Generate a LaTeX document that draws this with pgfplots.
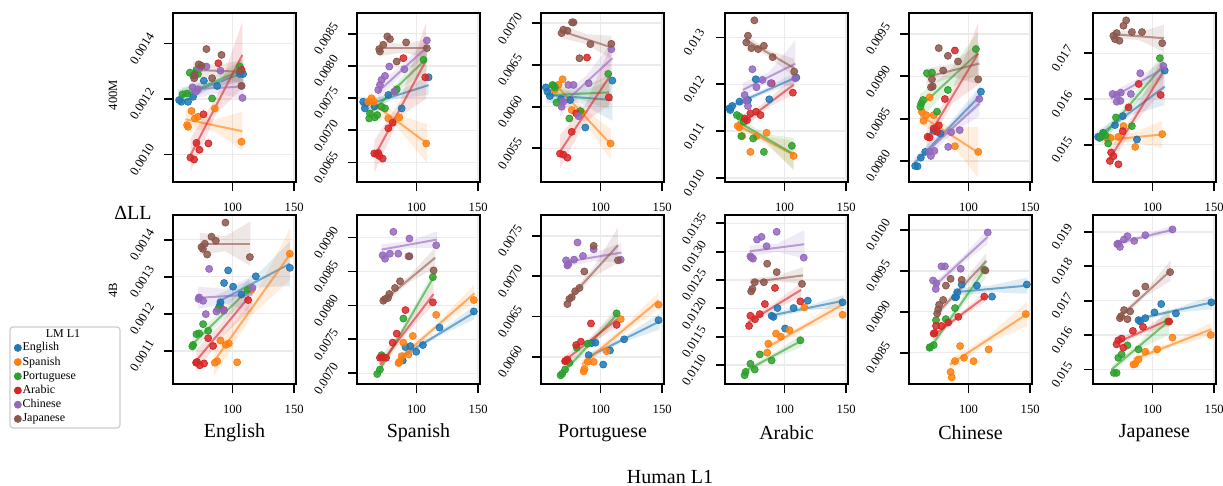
\documentclass[border=0pt]{standalone}
\usepackage{fontspec}
\setmainfont{Liberation Serif}
\usepackage{pgfplots}
\pgfplotsset{compat=1.18}

\definecolor{cB}{HTML}{1F77B4}
\definecolor{cO}{HTML}{FF7F0E}
\definecolor{cG}{HTML}{2CA02C}
\definecolor{cR}{HTML}{D62728}
\definecolor{cP}{HTML}{9467BD}
\definecolor{cN}{HTML}{8C564B}

\pgfplotsset{
  panel/.style={
    scale only axis, width=61.5pt, height=84.5pt, anchor=north west,
    xmin=51.8, xmax=151.5, xtick={100,150},
    tick align=outside, tick pos=left, major tick length=4.5pt,
    tick style={black, line width=0.9pt},
    axis line style={line width=0.9pt},
    grid=major, grid style={line width=0.7pt, color=black!8},
    scaled y ticks=false,
    /pgf/number format/assume math mode=true,
    xticklabel style={font=\fontsize{6.3}{7}\selectfont, yshift=-2.5pt},
    yticklabel style={font=\fontsize{6.3}{7}\selectfont, anchor=center,
      xshift=-11pt, yshift=-2.5pt, rotate=58,
      /pgf/number format/fixed, /pgf/number format/fixed zerofill,
      /pgf/number format/precision=#1},
  },
  sc/.style={only marks, mark=*, color=#1, mark size=1.75pt,
    mark options={draw=none, fill opacity=0.85}, forget plot},
  rl/.style={no marks, color=#1, line width=1pt, opacity=0.6, forget plot},
  bd/.style={draw=none, fill=#1, fill opacity=0.14, forget plot},
}

\begin{document}
\begin{tikzpicture}
\useasboundingbox (0,0) rectangle (611.5pt,-243pt);

% legend frame and title
\draw[rounded corners=1.5pt, black!20, line width=0.6pt, fill=white] (5pt,-163.5pt) rectangle (60pt,-214pt);
\node[font=\fontsize{6}{7}\selectfont] at (31.5pt,-166.8pt) {LM L1};

% ---------------- row 1: 400M ----------------
\begin{axis}[panel=4, at={(86.5pt,-6.5pt)}, ymin=0.000901, ymax=0.00151, ytick={0.0010,0.0012,0.0014}, xticklabel={}]
\addplot[bd=cB] coordinates {(56,0.001175) (82.5,0.001238) (109,0.001265) (109,0.001325) (82.5,0.001262) (56,0.001235)};
\addplot[sc=cB] coordinates {(56.8,0.001196) (58.6,0.001190) (64.0,0.001190) (68,0.001208) (76.8,0.001266) (87.6,0.001247) (106,0.001290) (108.6,0.001290)};
\addplot[rl=cB] coordinates {(56,0.001205) (109,0.001295)};
\addplot[bd=cO] coordinates {(62,0.001092) (85,0.0010855) (108,0.001014) (108,0.001154) (85,0.0011255) (62,0.001162)};
\addplot[sc=cO] coordinates {(66.8,0.001157) (63.2,0.001106) (64.0,0.001100) (69.5,0.001130) (72.2,0.001136) (85.7,0.001166) (107.3,0.001046)};
\addplot[rl=cO] coordinates {(62,0.001127) (108,0.001084)};
\addplot[bd=cG] coordinates {(59,0.001182) (83.5,0.0012435) (108,0.001265) (108,0.001345) (83.5,0.0012735) (59,0.001242)};
\addplot[sc=cG] coordinates {(59.5,0.001217) (63.2,0.001220) (65.4,0.001295) (68.1,0.001285) (70.8,0.001305) (72,0.001290) (83.5,0.001202) (106,0.001317)};
\addplot[rl=cG] coordinates {(59,0.001212) (108,0.001305)};
\addplot[bd=cR] coordinates {(66,0.000938) (87,0.0011485) (108,0.001239) (108,0.001479) (87,0.0012085) (66,0.001058)};
\addplot[sc=cR] coordinates {(65.9,0.000989) (68.9,0.000982) (70.8,0.001042) (73.2,0.001017) (76.5,0.001145) (80.5,0.001040) (88.6,0.001329) (107.3,0.001305)};
\addplot[rl=cR] coordinates {(66,0.000998) (108,0.001359)};
\addplot[bd=cP] coordinates {(66,0.0012) (87.5,0.00122) (109,0.0012) (109,0.00129) (87.5,0.00126) (66,0.00127)};
\addplot[sc=cP] coordinates {(67.6,0.001242) (70.5,0.001227) (73.5,0.001311) (78.9,0.001317) (90.3,0.001302) (107.3,0.001248) (108.1,0.001204) (72,0.001235)};
\addplot[rl=cP] coordinates {(66,0.001235) (109,0.001245)};
\addplot[bd=cN] coordinates {(68,0.001275) (88.5,0.0012815) (109,0.001253) (109,0.001343) (88.5,0.0013215) (68,0.001335)};
\addplot[sc=cN] coordinates {(78.9,0.001380) (91.1,0.001359) (72.7,0.001325) (74.9,0.001320) (69.5,0.001287) (69,0.001275) (83.5,0.001275) (107.3,0.001247) (106,0.001302)};
\addplot[rl=cN] coordinates {(68,0.001305) (109,0.001298)};
\end{axis}

\begin{axis}[panel=4, at={(178.5pt,-6.5pt)}, ymin=0.006197, ymax=0.008821, ytick={0.0065,0.0070,0.0075,0.0080,0.0085}, xticklabel={}]
\addplot[bd=cB] coordinates {(55.4,0.00729) (82.6,0.007485) (109.8,0.00755) (109.8,0.00785) (82.6,0.007585) (55.4,0.00745)};
\addplot[sc=cB] coordinates {(56.8,0.007444) (58.2,0.007340) (77.2,0.007548) (88.0,0.007340) (109.8,0.007823) (59.5,0.007420) (66,0.007370)};
\addplot[rl=cB] coordinates {(55.4,0.00737) (109.8,0.0077)};
\addplot[bd=cO] coordinates {(60.9,0.00735) (84.65,0.007035) (108.4,0.0065) (108.4,0.0071) (84.65,0.007235) (60.9,0.00759)};
\addplot[sc=cO] coordinates {(63.6,0.007496) (65.5,0.007444) (77.2,0.007184) (86.1,0.007200) (107.9,0.006795) (60.9,0.007444)};
\addplot[rl=cO] coordinates {(60.9,0.00747) (108.4,0.0068)};
\addplot[bd=cG] coordinates {(61,0.00714) (84.7,0.00761) (108.4,0.00792) (108.4,0.00832) (84.7,0.00775) (61,0.00734)};
\addplot[sc=cG] coordinates {(105.7,0.008094) (84.0,0.007636) (82.6,0.007600) (71.7,0.007366) (68.2,0.007236) (61.7,0.007184) (66.3,0.007200) (62.3,0.007262) (74.5,0.007340)};
\addplot[rl=cG] coordinates {(61,0.00724) (108.4,0.00812)};
\addplot[bd=cR] coordinates {(65.8,0.00634) (86.85,0.00722) (107.9,0.00749) (107.9,0.00869) (86.85,0.00746) (65.8,0.00684)};
\addplot[sc=cR] coordinates {(65.8,0.006640) (67.7,0.006630) (69.9,0.006600) (72.6,0.006560) (77.2,0.007030) (80.7,0.007117) (89.4,0.008120) (107.1,0.007823) (69,0.006650)};
\addplot[rl=cR] coordinates {(65.8,0.00659) (107.9,0.00809)};
\addplot[bd=cP] coordinates {(69,0.00748) (89,0.00788) (109,0.00816) (109,0.00844) (89,0.00802) (69,0.00772)};
\addplot[sc=cP] coordinates {(108.4,0.008395) (78.0,0.007990) (90.2,0.007948) (74.5,0.007844) (70.4,0.007704) (69.0,0.007626) (71.7,0.007782) (82.1,0.007600)};
\addplot[rl=cP] coordinates {(69,0.0076) (109,0.0083)};
\addplot[bd=cN] coordinates {(70,0.00815) (89.25,0.00821) (108.5,0.00812) (108.5,0.00842) (89.25,0.00833) (70,0.00839)};
\addplot[sc=cN] coordinates {(76.4,0.008457) (78.5,0.008416) (73.1,0.008327) (69.8,0.008260) (70.4,0.008223) (91.6,0.008364) (84.0,0.008068) (108.4,0.008275)};
\addplot[rl=cN] coordinates {(70,0.00827) (108.5,0.00827)};
\end{axis}

\begin{axis}[panel=4, at={(270.5pt,-6.5pt)}, ymin=0.005097, ymax=0.007122, ytick={0.0055,0.0060,0.0065,0.0070}, xticklabel={}]
\addplot[bd=cB] coordinates {(56.2,0.00604) (82.9,0.00605) (109.6,0.00583) (109.6,0.00633) (82.9,0.00617) (56.2,0.00624)};
\addplot[sc=cB] coordinates {(55.7,0.006231) (59,0.006127) (109.6,0.006312) (87.7,0.005750) (75.4,0.006079) (68,0.006090) (57,0.006180)};
\addplot[rl=cB] coordinates {(56.2,0.00614) (109.6,0.00608)};
\addplot[bd=cO] coordinates {(65.8,0.00613) (87,0.00581) (108.2,0.00537) (108.2,0.00573) (87,0.00597) (65.8,0.00633)};
\addplot[sc=cO] coordinates {(69.3,0.006328) (65.8,0.006260) (76.7,0.005959) (84.4,0.005939) (108.2,0.005558) (63,0.006200)};
\addplot[rl=cO] coordinates {(65.8,0.00623) (108.2,0.00555)};
\addplot[bd=cG] coordinates {(60.3,0.00604) (83.55,0.006085) (106.8,0.00597) (106.8,0.00637) (83.55,0.006225) (60.3,0.00624)};
\addplot[sc=cG] coordinates {(61.1,0.006260) (63.1,0.006231) (64.4,0.006048) (74.8,0.005858) (106.3,0.006392) (83.6,0.005947) (62,0.006250)};
\addplot[rl=cG] coordinates {(60.3,0.00614) (106.8,0.00617)};
\addplot[bd=cR] coordinates {(67.2,0.00526) (87.7,0.00582) (108.2,0.00603) (108.2,0.00673) (87.7,0.00602) (67.2,0.00566)};
\addplot[sc=cR] coordinates {(67.2,0.005437) (69.9,0.005425) (73.2,0.005389) (76.7,0.005698) (89.1,0.006588) (80.3,0.005919) (106.8,0.006111)};
\addplot[rl=cR] coordinates {(67.2,0.00546) (108.2,0.00638)};
\addplot[bd=cP] coordinates {(67.2,0.00588) (88.4,0.00621) (109.6,0.00638) (109.6,0.00678) (88.4,0.00637) (67.2,0.00612)};
\addplot[sc=cP] coordinates {(74,0.006260) (78.1,0.006260) (90.4,0.006280) (108.8,0.006688) (68.5,0.005999) (82.2,0.005886) (69.9,0.006059)};
\addplot[rl=cP] coordinates {(67.2,0.006) (109.6,0.00658)};
\addplot[bd=cN] coordinates {(69.3,0.00682) (89.05,0.006745) (108.8,0.00657) (108.8,0.00685) (89.05,0.006865) (69.3,0.00698)};
\addplot[sc=cN] coordinates {(78.1,0.007009) (69.9,0.006921) (73.2,0.006909) (68.5,0.006881) (91.8,0.006749) (108.8,0.006753) (83,0.006580) (77,0.007010)};
\addplot[rl=cN] coordinates {(69.3,0.0069) (108.8,0.00671)};
\end{axis}

\begin{axis}[panel=3, at={(362.5pt,-6.5pt)}, ymin=0.009914, ymax=0.013521, ytick={0.010,0.011,0.012,0.013}, xticklabel={}]
\addplot[bd=cB] coordinates {(55.4,0.01144) (82.5,0.011785) (109.6,0.01203) (109.6,0.01227) (82.5,0.011885) (55.4,0.0116)};
\addplot[sc=cB] coordinates {(55.4,0.011486) (57.6,0.011536) (63.6,0.011629) (76.7,0.012107) (87.7,0.011679) (109.6,0.012143) (70.4,0.011664) (56,0.011450)};
\addplot[rl=cB] coordinates {(55.4,0.01152) (109.6,0.01215)};
\addplot[bd=cO] coordinates {(61.7,0.01103) (84.55,0.01073) (107.4,0.01019) (107.4,0.01079) (84.55,0.01089) (61.7,0.01123)};
\addplot[sc=cO] coordinates {(62.2,0.011107) (65.8,0.010893) (72.4,0.010557) (77.3,0.010893) (85.5,0.010964) (107.4,0.010471) (63.5,0.011080)};
\addplot[rl=cO] coordinates {(61.7,0.01113) (107.4,0.01049)};
\addplot[bd=cG] coordinates {(62.2,0.0111) (84.8,0.010775) (107.4,0.01016) (107.4,0.01086) (84.8,0.010935) (62.2,0.0113)};
\addplot[sc=cG] coordinates {(61.4,0.011343) (63.6,0.011307) (65,0.010893) (74.6,0.010843) (83.3,0.010557) (106,0.010686) (67,0.011200)};
\addplot[rl=cG] coordinates {(62.2,0.0112) (107.4,0.01051)};
\addplot[bd=cR] coordinates {(67.7,0.01108) (87.55,0.011515) (107.4,0.01179) (107.4,0.01219) (87.55,0.011675) (67.7,0.01132)};
\addplot[sc=cR] coordinates {(67.7,0.011271) (69.6,0.011236) (72.4,0.011379) (77,0.011414) (80.6,0.011343) (89.6,0.012021) (106.8,0.011821)};
\addplot[rl=cR] coordinates {(67.7,0.0112) (107.4,0.01199)};
\addplot[bd=cP] coordinates {(66.3,0.01173) (87.55,0.01206) (108.8,0.01194) (108.8,0.01294) (87.55,0.01226) (66.3,0.01203)};
\addplot[sc=cP] coordinates {(74,0.012321) (77.3,0.011936) (82.2,0.012093) (67.7,0.011771) (70.4,0.011536) (88.8,0.012021) (108.8,0.012129) (69,0.011650)};
\addplot[rl=cP] coordinates {(66.3,0.01188) (108.8,0.01244)};
\addplot[bd=cN] coordinates {(68.5,0.01285) (88.2,0.012577) (107.9,0.012143) (107.9,0.012543) (88.2,0.012717) (68.5,0.01305)};
\addplot[sc=cN] coordinates {(75.6,0.013364) (70.4,0.013036) (69.1,0.012893) (73.2,0.012771) (78.7,0.012750) (83.3,0.012821) (90.4,0.012579) (107.9,0.012271)};
\addplot[rl=cN] coordinates {(68.5,0.01295) (107.9,0.012343)};
\end{axis}

\begin{axis}[panel=4, at={(454.5pt,-6.5pt)}, ymin=0.007753, ymax=0.009746, ytick={0.0080,0.0085,0.0090,0.0095}, xticklabel={}]
\addplot[bd=cB] coordinates {(55.9,0.00791) (83,0.008335) (110.1,0.00866) (110.1,0.0089) (83,0.008415) (55.9,0.00803)};
\addplot[sc=cB] coordinates {(56.8,0.007942) (58.7,0.007938) (61.4,0.008041) (64.9,0.008108) (71.8,0.008357) (110.1,0.008818) (77.3,0.008325)};
\addplot[rl=cB] coordinates {(55.9,0.00797) (110.1,0.00878)};
\addplot[bd=cO] coordinates {(60.9,0.00844) (84.4,0.00824) (107.9,0.0078) (107.9,0.0084) (84.4,0.0084) (60.9,0.00864)};
\addplot[sc=cO] coordinates {(62.2,0.008582) (63.6,0.008475) (68.5,0.008751) (71.8,0.008542) (89,0.008175) (107.9,0.008108) (65.8,0.008540)};
\addplot[rl=cO] coordinates {(60.9,0.00854) (107.9,0.0081)};
\addplot[bd=cG] coordinates {(60.9,0.00849) (84.15,0.008855) (107.4,0.00902) (107.4,0.00952) (84.15,0.009055) (60.9,0.00879)};
\addplot[sc=cG] coordinates {(61.7,0.008680) (63.1,0.008720) (66.3,0.009036) (70.4,0.009043) (83.3,0.008838) (106,0.009320) (74.5,0.008582) (61,0.008640)};
\addplot[rl=cG] coordinates {(60.9,0.00864) (107.4,0.00927)};
\addplot[bd=cR] coordinates {(65.8,0.00813) (86.85,0.00868) (107.9,0.0089) (107.9,0.00964) (86.85,0.00884) (65.8,0.00837)};
\addplot[sc=cR] coordinates {(89,0.009304) (80.9,0.008732) (66.9,0.008286) (68.5,0.008278) (71.8,0.008384) (74.5,0.008345) (76,0.008420)};
\addplot[rl=cR] coordinates {(65.8,0.00825) (107.9,0.00927)};
\addplot[bd=cP] coordinates {(66.3,0.00803) (87.55,0.008335) (108.8,0.00853) (108.8,0.00883) (87.55,0.008455) (66.3,0.00819)};
\addplot[sc=cP] coordinates {(68.5,0.008108) (72.4,0.008120) (83.6,0.008167) (92.9,0.008365) (108.8,0.008732) (69.5,0.008060) (86,0.008340)};
\addplot[rl=cP] coordinates {(66.3,0.00811) (108.8,0.00868)};
\addplot[bd=cN] coordinates {(65.8,0.00889) (87.3,0.00899) (108.8,0.0089) (108.8,0.0094) (87.3,0.00915) (65.8,0.00909)};
\addplot[sc=cN] coordinates {(75.9,0.009332) (83.3,0.009241) (91.5,0.009174) (79.5,0.009067) (70.4,0.008964) (69.6,0.008870) (107.9,0.008964) (71,0.008880)};
\addplot[rl=cN] coordinates {(65.8,0.00899) (108.8,0.00915)};
\end{axis}

\begin{axis}[panel=3, at={(546.5pt,-6.5pt)}, ymin=0.014183, ymax=0.017883, ytick={0.015,0.016,0.017}, xticklabel={}]
\addplot[bd=cB] coordinates {(55.1,0.015052) (82.5,0.015642) (109.9,0.015871) (109.9,0.016671) (82.5,0.015802) (55.1,0.015292)};
\addplot[sc=cB] coordinates {(55.9,0.015172) (60,0.015260) (69.6,0.015429) (75.9,0.015626) (87.4,0.015114) (109.9,0.016623) (57,0.015150)};
\addplot[rl=cB] coordinates {(55.1,0.015172) (109.9,0.016271)};
\addplot[bd=cO] coordinates {(61.4,0.014979) (84.65,0.015061) (107.9,0.014923) (107.9,0.015523) (84.65,0.015261) (61.4,0.015219)};
\addplot[sc=cO] coordinates {(76.5,0.015407) (72.4,0.015172) (86,0.014952) (107.9,0.015231) (63.3,0.015136) (66,0.015150)};
\addplot[rl=cO] coordinates {(61.4,0.015099) (107.9,0.015223)};
\addplot[bd=cG] coordinates {(58.7,0.014986) (83.75,0.015842) (108.8,0.016447) (108.8,0.017047) (83.75,0.016042) (58.7,0.015286)};
\addplot[sc=cG] coordinates {(106,0.016894) (70.4,0.015597) (83.3,0.015407) (60,0.015245) (64.1,0.015026) (58,0.015160) (62,0.015200)};
\addplot[rl=cG] coordinates {(58.7,0.015136) (108.8,0.016747)};
\addplot[bd=cR] coordinates {(65,0.014474) (86.9,0.015518) (108.8,0.016201) (108.8,0.017001) (86.9,0.015758) (65,0.014874)};
\addplot[sc=cR] coordinates {(65.5,0.014645) (68.3,0.014747) (72.4,0.014571) (80.6,0.015817) (88.8,0.016330) (106.6,0.016088) (75.9,0.015297) (66.5,0.014830)};
\addplot[rl=cR] coordinates {(65,0.014674) (108.8,0.016601)};
\addplot[bd=cP] coordinates {(66.1,0.015895) (87.7,0.016243) (109.3,0.01647) (109.3,0.01687) (87.7,0.016443) (66.1,0.016135)};
\addplot[sc=cP] coordinates {(67.7,0.016110) (71,0.016088) (74.3,0.016139) (82.5,0.016110) (90.1,0.016564) (108.8,0.016725) (71,0.015941) (74,0.015960)};
\addplot[rl=cP] coordinates {(66.1,0.016015) (109.3,0.01667)};
\addplot[bd=cN] coordinates {(67.7,0.01732) (88.5,0.017295) (109.3,0.01703) (109.3,0.01763) (88.5,0.017455) (67.7,0.01752)};
\addplot[sc=cN] coordinates {(78.7,0.017722) (76.5,0.017604) (71,0.017443) (68.3,0.017385) (69.6,0.017311) (73.2,0.017275) (83.3,0.017465) (91.5,0.017465) (107.9,0.017223)};
\addplot[rl=cN] coordinates {(67.7,0.01742) (109.3,0.01733)};
\end{axis}

% ---------------- row 2: 4B ----------------
\begin{axis}[panel=4, at={(86.5pt,-107.5pt)}, ymin=0.0010105, ymax=0.0014665, ytick={0.0011,0.0012,0.0013,0.0014},
  legend cell align=left,
  legend image code/.code={\draw[mark repeat=2,mark phase=2,#1] plot coordinates {(0pt,0pt) (3pt,0pt) (10.5pt,0pt)};},
  legend style={at={(-1.293,0.258)}, anchor=north west, draw=none, fill=none,
    font=\fontsize{6}{7}\selectfont, inner sep=0pt, row sep=0pt,
    nodes={inner sep=0.6pt, text height=4.5pt, text depth=1.4pt}}]
\addlegendimage{only marks, mark=*, mark size=1.75pt, cB}
\addlegendimage{only marks, mark=*, mark size=1.75pt, cO}
\addlegendimage{only marks, mark=*, mark size=1.75pt, cG}
\addlegendimage{only marks, mark=*, mark size=1.75pt, cR}
\addlegendimage{only marks, mark=*, mark size=1.75pt, cP}
\addlegendimage{only marks, mark=*, mark size=1.75pt, cN}
\legend{English, Spanish, Portuguese, Arabic, Chinese, Japanese}
\addplot[bd=cB] coordinates {(87.6,0.001211) (117.05,0.00127) (146.5,0.001275) (146.5,0.001395) (117.05,0.001296) (87.6,0.001251)};
\addplot[sc=cB] coordinates {(96.5,0.001317) (93.2,0.001283) (90.3,0.001231) (89.7,0.001222) (100.5,0.001273) (118.9,0.001301) (146.5,0.001324) (107.3,0.001252)};
\addplot[rl=cB] coordinates {(87.6,0.001231) (146.5,0.001335)};
\addplot[bd=cO] coordinates {(85.1,0.001032) (116.05,0.001197) (147,0.001292) (147,0.001432) (116.05,0.001237) (85.1,0.001112)};
\addplot[sc=cO] coordinates {(85.7,0.001068) (87.6,0.001072) (90.3,0.001128) (94.6,0.001116) (97,0.001120) (103.8,0.001069) (115.4,0.001264) (146.5,0.001362)};
\addplot[rl=cO] coordinates {(85.1,0.001072) (147,0.001362)};
\addplot[bd=cG] coordinates {(67.6,0.001098) (90.55,0.0011795) (113.5,0.001237) (113.5,0.001297) (90.55,0.0012055) (67.6,0.001138)};
\addplot[sc=cG] coordinates {(68.1,0.001116) (70.8,0.001145) (73,0.001147) (76.2,0.001172) (80.3,0.001154) (88.4,0.001213) (112.2,0.001264) (67.5,0.001112)};
\addplot[rl=cG] coordinates {(67.6,0.001118) (113.5,0.001267)};
\addplot[bd=cR] coordinates {(70.8,0.001044) (92.15,0.00114) (113.5,0.001206) (113.5,0.001286) (92.15,0.00118) (70.8,0.001104)};
\addplot[sc=cR] coordinates {(71.3,0.001070) (73.5,0.001061) (77,0.001066) (80.3,0.001134) (84.3,0.001113) (93,0.001210) (112.7,0.001237) (70.5,0.001068)};
\addplot[rl=cR] coordinates {(70.8,0.001074) (113.5,0.001246)};
\addplot[bd=cP] coordinates {(72.2,0.001213) (94.2,0.0012275) (116.2,0.001202) (116.2,0.001302) (94.2,0.0012675) (72.2,0.001273)};
\addplot[sc=cP] coordinates {(81.1,0.001321) (73,0.001244) (76.2,0.001235) (78.4,0.001199) (87,0.001206) (116.2,0.001270) (93,0.001208) (72.5,0.001240)};
\addplot[rl=cP] coordinates {(72.2,0.001243) (116.2,0.001252)};
\addplot[bd=cN] coordinates {(73.5,0.001359) (94,0.001369) (114.6,0.001329) (114.6,0.001449) (94,0.001409) (73.5,0.001419)};
\addplot[sc=cN] coordinates {(94.3,0.001446) (83,0.001408) (86.5,0.001397) (77.6,0.001389) (74.9,0.001380) (79.5,0.001360) (114.1,0.001353) (76,0.001375)};
\addplot[rl=cN] coordinates {(73.5,0.001389) (114.6,0.001389)};
\end{axis}

\begin{axis}[panel=4, at={(178.5pt,-107.5pt)}, ymin=0.006842, ymax=0.009332, ytick={0.0070,0.0075,0.0080,0.0085,0.0090}]
\addplot[bd=cB] coordinates {(88.4,0.007203) (117.7,0.0075445) (147,0.007796) (147,0.007996) (117.7,0.0076045) (88.4,0.007303)};
\addplot[sc=cB] coordinates {(146.5,0.007911) (118.7,0.007673) (105.2,0.007416) (99.8,0.007317) (91.1,0.007386) (88.9,0.007188) (95,0.007400)};
\addplot[rl=cB] coordinates {(88.4,0.007253) (147,0.007896)};
\addplot[bd=cO] coordinates {(85.3,0.007143) (116.15,0.0076505) (147,0.008048) (147,0.008308) (116.15,0.0077305) (85.3,0.007263)};
\addplot[sc=cO] coordinates {(146.5,0.008079) (116,0.007861) (97,0.007550) (89.4,0.007451) (86.1,0.007168) (88,0.007252) (93.5,0.007277) (85.5,0.007150)};
\addplot[rl=cO] coordinates {(85.3,0.007203) (147,0.008178)};
\addplot[bd=cG] coordinates {(68.2,0.00693) (91.05,0.007653) (113.9,0.008316) (113.9,0.008516) (91.05,0.007753) (68.2,0.00705)};
\addplot[sc=cG] coordinates {(113.3,0.008416) (89.4,0.007807) (70.4,0.007055) (68.2,0.006990) (71.7,0.007267) (73,0.007240)};
\addplot[rl=cG] coordinates {(68.2,0.00699) (113.9,0.008416)};
\addplot[bd=cR] coordinates {(70.4,0.007029) (92.15,0.0075885) (113.9,0.008018) (113.9,0.008318) (92.15,0.0077085) (70.4,0.007229)};
\addplot[sc=cR] coordinates {(91.1,0.007931) (113.3,0.008045) (84,0.007584) (80.7,0.007451) (71.7,0.007238) (75.4,0.007228) (70.4,0.007228)};
\addplot[rl=cR] coordinates {(70.4,0.007129) (113.9,0.008168)};
\addplot[bd=cP] coordinates {(71.7,0.008742) (94.15,0.008846) (116.6,0.00885) (116.6,0.00909) (94.15,0.008946) (71.7,0.008902)};
\addplot[sc=cP] coordinates {(81.3,0.009084) (94.3,0.008985) (116,0.008886) (78.5,0.008762) (72.6,0.008738) (74.5,0.008688) (85.3,0.008762) (93.5,0.008723)};
\addplot[rl=cP] coordinates {(71.7,0.008822) (116.6,0.00897)};
\addplot[bd=cN] coordinates {(73.1,0.008009) (94.15,0.008336) (115.2,0.008553) (115.2,0.008853) (94.15,0.008436) (73.1,0.008129)};
\addplot[sc=cN] coordinates {(113.9,0.008515) (86.7,0.008356) (82.6,0.008257) (78,0.008168) (74.5,0.008094) (73.1,0.008069) (76.9,0.008109) (94.3,0.008723)};
\addplot[rl=cN] coordinates {(73.1,0.008069) (115.2,0.008703)};
\end{axis}

\begin{axis}[panel=4, at={(270.5pt,-107.5pt)}, ymin=0.005663, ymax=0.007758, ytick={0.0060,0.0065,0.0070,0.0075}]
\addplot[bd=cB] coordinates {(88.5,0.005948) (118.2,0.006183) (147.9,0.006338) (147.9,0.006538) (118.2,0.006243) (88.5,0.006028)};
\addplot[sc=cB] coordinates {(147.1,0.006454) (119.2,0.006217) (107.7,0.006079) (95.9,0.006175) (90.4,0.006021) (102.2,0.005904) (93,0.006170)};
\addplot[rl=cB] coordinates {(88.5,0.005988) (147.9,0.006438)};
\addplot[bd=cO] coordinates {(85,0.005854) (116.05,0.00626) (147.1,0.006596) (147.1,0.006796) (116.05,0.00634) (85,0.005954)};
\addplot[sc=cO] coordinates {(147.1,0.006646) (116.4,0.006467) (104.9,0.006071) (94.5,0.005938) (86.4,0.005820) (89.6,0.005938) (87,0.005850)};
\addplot[rl=cO] coordinates {(85,0.005904) (147.1,0.006696)};
\addplot[bd=cG] coordinates {(67.7,0.005721) (90.7,0.00611) (113.7,0.006429) (113.7,0.006629) (90.7,0.00619) (67.7,0.005821)};
\addplot[sc=cG] coordinates {(113.1,0.006538) (89.6,0.006163) (74.8,0.005925) (71.3,0.005842) (67.7,0.005771) (80.8,0.006113) (69,0.005790)};
\addplot[rl=cG] coordinates {(67.7,0.005771) (113.7,0.006529)};
\addplot[bd=cR] coordinates {(70.4,0.005886) (92.05,0.0061665) (113.7,0.006367) (113.7,0.006567) (92.05,0.0062465) (70.4,0.006006)};
\addplot[sc=cR] coordinates {(92.3,0.006413) (113.1,0.006396) (80.3,0.006146) (84.1,0.006188) (73.2,0.005967) (71.3,0.005946) (72,0.005950)};
\addplot[rl=cR] coordinates {(70.4,0.005946) (113.7,0.006467)};
\addplot[bd=cP] coordinates {(71.3,0.007115) (94.15,0.0071835) (117,0.007172) (117,0.007412) (94.15,0.0072835) (71.3,0.007235)};
\addplot[sc=cP] coordinates {(81.4,0.007417) (85.8,0.007250) (94.5,0.007333) (72.1,0.007196) (73.2,0.007133) (78.6,0.007204) (116.4,0.007204) (74,0.007150)};
\addplot[rl=cP] coordinates {(71.3,0.007175) (117,0.007292)};
\addplot[bd=cN] coordinates {(73.2,0.006636) (93.7,0.0069895) (114.2,0.007163) (114.2,0.007603) (93.7,0.0070895) (73.2,0.006756)};
\addplot[sc=cN] coordinates {(94.5,0.007375) (114.2,0.007196) (86.9,0.007058) (83,0.006854) (79.5,0.006813) (74.8,0.006717) (73.2,0.006654) (76.7,0.006738)};
\addplot[rl=cN] coordinates {(73.2,0.006696) (114.2,0.007383)};
\end{axis}

\begin{axis}[panel=4, at={(362.5pt,-107.5pt)}, ymin=0.010667, ymax=0.013647, ytick={0.0110,0.0115,0.0120,0.0125,0.0130,0.0135}]
\addplot[bd=cB] coordinates {(88.2,0.01182) (118.05,0.011963) (147.9,0.012036) (147.9,0.012236) (118.05,0.012043) (88.2,0.01192)};
\addplot[sc=cB] coordinates {(118.9,0.012136) (147.1,0.012107) (107.4,0.012006) (94.3,0.012006) (89.6,0.011870) (100.5,0.011645) (91,0.011850)};
\addplot[rl=cB] coordinates {(88.2,0.01187) (147.9,0.012136)};
\addplot[bd=cO] coordinates {(85.5,0.011247) (116.7,0.011642) (147.9,0.011927) (147.9,0.012227) (116.7,0.011742) (85.5,0.011367)};
\addplot[sc=cO] coordinates {(147.1,0.011887) (116.1,0.012018) (104.1,0.011615) (93.2,0.011556) (86.9,0.011378) (86,0.011218) (97,0.011500)};
\addplot[rl=cO] coordinates {(85.5,0.011307) (147.9,0.012077)};
\addplot[bd=cG] coordinates {(66.9,0.01082) (90.15,0.0111125) (113.4,0.011315) (113.4,0.011535) (90.15,0.0111925) (66.9,0.01094)};
\addplot[sc=cG] coordinates {(112.9,0.011437) (80,0.011188) (89.6,0.011082) (72.4,0.011023) (75.9,0.010922) (68.5,0.010880) (67.7,0.010821)};
\addplot[rl=cG] coordinates {(66.9,0.01088) (113.4,0.011425)};
\addplot[bd=cR] coordinates {(70.4,0.011671) (91.9,0.0119785) (113.4,0.012206) (113.4,0.012446) (91.9,0.0120985) (70.4,0.011831)};
\addplot[sc=cR] coordinates {(92.3,0.012361) (84.1,0.012077) (112.9,0.012124) (80,0.011899) (72.4,0.011870) (71.3,0.011692) (76.1,0.011810)};
\addplot[rl=cR] coordinates {(70.4,0.011751) (113.4,0.012326)};
\addplot[bd=cP] coordinates {(71.8,0.012907) (93.95,0.012999) (116.1,0.012881) (116.1,0.013381) (93.95,0.013139) (71.8,0.013107)};
\addplot[sc=cP] coordinates {(93.7,0.013351) (77.8,0.013214) (81.4,0.013262) (85.5,0.013096) (72.4,0.012918) (74.5,0.012877) (115.6,0.012895) (73,0.012900)};
\addplot[rl=cP] coordinates {(71.8,0.013007) (116.1,0.013131)};
\addplot[bd=cN] coordinates {(72.4,0.012392) (93.75,0.0124715) (115.1,0.012431) (115.1,0.012731) (93.75,0.0125715) (72.4,0.012532)};
\addplot[sc=cN] coordinates {(86,0.012788) (93.7,0.012640) (74,0.012344) (75.9,0.012462) (83.3,0.012462) (114.2,0.012432) (73,0.012300)};
\addplot[rl=cN] coordinates {(72.4,0.012462) (115.1,0.012581)};
\end{axis}

\begin{axis}[panel=4, at={(454.5pt,-107.5pt)}, ymin=0.008117, ymax=0.010183, ytick={0.0085,0.0090,0.0095,0.0100}]
\addplot[bd=cB] coordinates {(87.7,0.009188) (117.75,0.009239) (147.8,0.00922) (147.8,0.00942) (117.75,0.009319) (87.7,0.009288)};
\addplot[sc=cB] coordinates {(147.3,0.009333) (119.1,0.009185) (106.8,0.009320) (94.5,0.009333) (91,0.009238) (89.1,0.009177) (90,0.009180)};
\addplot[rl=cB] coordinates {(87.7,0.009238) (147.8,0.00932)};
\addplot[bd=cO] coordinates {(85,0.008295) (116.15,0.008623) (147.3,0.008821) (147.3,0.009121) (116.15,0.008703) (85,0.008415)};
\addplot[sc=cO] coordinates {(146.5,0.008971) (116.4,0.008540) (93.2,0.008581) (104.1,0.008396) (96.4,0.008437) (89.1,0.008396) (85.5,0.008264) (86.4,0.008199)};
\addplot[rl=cO] coordinates {(85,0.008355) (147.3,0.008971)};
\addplot[bd=cG] coordinates {(69,0.00851) (91.35,0.009003) (113.7,0.009406) (113.7,0.009646) (91.35,0.009083) (69,0.00861)};
\addplot[sc=cG] coordinates {(112.8,0.009514) (89.1,0.009045) (81.6,0.008910) (73.7,0.008897) (69,0.008569) (71.8,0.008593) (68.5,0.008560)};
\addplot[rl=cG] coordinates {(69,0.00856) (113.7,0.009526)};
\addplot[bd=cR] coordinates {(71,0.008654) (92.35,0.0089145) (113.7,0.009125) (113.7,0.009245) (92.35,0.0089745) (71,0.008754)};
\addplot[sc=cR] coordinates {(112.8,0.009185) (91.8,0.008938) (83.6,0.008869) (78.1,0.008827) (73.7,0.008827) (71.8,0.008733) (72.5,0.008740)};
\addplot[rl=cR] coordinates {(71,0.008704) (113.7,0.009185)};
\addplot[bd=cP] coordinates {(71.9,0.009258) (93.75,0.009572) (115.6,0.009826) (115.6,0.010006) (93.75,0.009652) (71.9,0.009358)};
\addplot[sc=cP] coordinates {(115.6,0.009970) (78.1,0.009555) (80.9,0.009555) (93.7,0.009526) (71.3,0.009382) (73.9,0.009349) (73.5,0.009279)};
\addplot[rl=cP] coordinates {(71.9,0.009308) (115.6,0.009916)};
\addplot[bd=cN] coordinates {(74,0.008921) (94.25,0.009256) (114.5,0.009521) (114.5,0.009721) (94.25,0.009336) (74,0.009021)};
\addplot[sc=cN] coordinates {(113.7,0.009505) (85.5,0.009403) (94.5,0.009390) (81.7,0.009320) (79.5,0.009144) (76.2,0.009086) (74.6,0.008979) (75.5,0.009030)};
\addplot[rl=cN] coordinates {(74,0.008971) (114.5,0.009621)};
\end{axis}

\begin{axis}[panel=3, at={(546.5pt,-107.5pt)}, ymin=0.014580, ymax=0.019488, ytick={0.015,0.016,0.017,0.018,0.019}]
\addplot[bd=cB] coordinates {(87.4,0.016403) (117.85,0.016647) (148.3,0.016751) (148.3,0.017151) (117.85,0.016767) (87.4,0.016523)};
\addplot[sc=cB] coordinates {(147.8,0.016951) (119,0.016629) (107.1,0.016902) (101.6,0.016659) (94.2,0.016493) (88.7,0.016434) (90,0.016400)};
\addplot[rl=cB] coordinates {(87.4,0.016463) (148.3,0.016951)};
\addplot[bd=cO] coordinates {(84.6,0.015193) (116.2,0.015662) (147.8,0.015971) (147.8,0.016371) (116.2,0.015802) (84.6,0.015393)};
\addplot[sc=cO] coordinates {(147.2,0.016005) (116.2,0.015927) (103.8,0.015585) (94.2,0.015517) (88.7,0.015293) (85.9,0.015166) (84.6,0.015147)};
\addplot[rl=cO] coordinates {(84.6,0.015293) (147.8,0.016171)};
\addplot[bd=cG] coordinates {(66.8,0.0149) (90.15,0.0156075) (113.5,0.016015) (113.5,0.016815) (90.15,0.0158075) (66.8,0.0151)};
\addplot[sc=cG] coordinates {(112.6,0.016395) (88.7,0.015585) (75,0.015439) (72.3,0.015342) (68.7,0.014902) (70.9,0.014902) (79.7,0.015702)};
\addplot[rl=cG] coordinates {(66.8,0.015) (113.5,0.016415)};
\addplot[bd=cR] coordinates {(70.9,0.01568) (92.6,0.0160515) (114.3,0.016263) (114.3,0.016663) (92.6,0.0161915) (70.9,0.01588)};
\addplot[sc=cR] coordinates {(113.5,0.016395) (92.3,0.016239) (84.1,0.016122) (72.3,0.015849) (76.4,0.015634) (70.9,0.015732) (75,0.015900)};
\addplot[rl=cR] coordinates {(70.9,0.01578) (114.3,0.016463)};
\addplot[bd=cP] coordinates {(70.9,0.018579) (93.95,0.0188035) (117,0.018948) (117,0.019188) (93.95,0.0189235) (70.9,0.018739)};
\addplot[sc=cP] coordinates {(72.3,0.018659) (73.6,0.018561) (76.9,0.018776) (79.7,0.018873) (85.2,0.018737) (94.2,0.018902) (116.2,0.019068) (71.5,0.018640)};
\addplot[rl=cP] coordinates {(70.9,0.018659) (117,0.019068)};
\addplot[bd=cN] coordinates {(73.1,0.016412) (93.95,0.017115) (114.8,0.017578) (114.8,0.018178) (93.95,0.017275) (73.1,0.016612)};
\addplot[sc=cN] coordinates {(114.3,0.017829) (94.2,0.017410) (86.8,0.017215) (81.9,0.016688) (77,0.016727) (73.6,0.016493) (79.7,0.016463) (74.5,0.016550)};
\addplot[rl=cN] coordinates {(73.1,0.016512) (114.8,0.017878)};
\end{axis}

% ---------------- labels ----------------
\node[rotate=90, font=\fontsize{6.3}{7}\selectfont] at (56.5pt,-47.5pt) {400M};
\node[rotate=90, font=\fontsize{6.3}{7}\selectfont] at (56.5pt,-145pt) {4B};
\node[font=\fontsize{10}{12}\selectfont] at (66.5pt,-106.5pt) {ΔLL};
\begin{scope}[every node/.style={font=\fontsize{10}{12}\selectfont}]
\node at (117.25pt,-216.5pt) {English};
\node at (209.25pt,-216.5pt) {Spanish};
\node at (301.25pt,-216.5pt) {Portuguese};
\node at (393.25pt,-216.5pt) {Arabic};
\node at (485.25pt,-216.5pt) {Chinese};
\node at (577.25pt,-216.5pt) {Japanese};
\node at (335pt,-238.5pt) {Human L1};
\end{scope}
\end{tikzpicture}
\end{document}
